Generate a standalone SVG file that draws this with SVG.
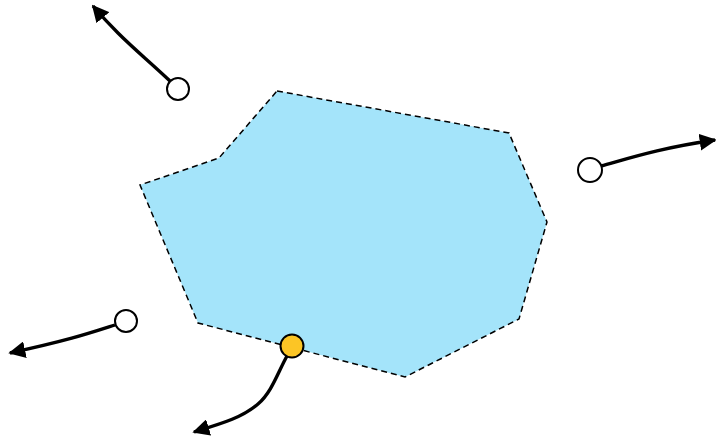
<svg xmlns="http://www.w3.org/2000/svg" width="716" height="438" viewBox="0 0 716 438">
<defs>
<style>
.region{fill:#a4e4fa;stroke:#000;stroke-width:1.5;stroke-dasharray:6 4}
.edge{fill:none;stroke:#000;stroke-width:3.4}
.node{fill:#fff;stroke:#000;stroke-width:2}
.node.hot{fill:#fcc525}
</style>
<marker id="ah" viewBox="0 0 10 10" refX="9" refY="5" markerWidth="5" markerHeight="5" orient="auto" markerUnits="strokeWidth">
<path d="M0,0 L10,5 L0,10 Z" fill="#000"/>
</marker>
</defs>
<g id="region">
<polygon class="region" points="277,91 509,133 547,222 519,319 405,377 198,323 140,185 219,158"/>
</g>
<g id="connectors">
<path class="edge" marker-end="url(#ah)" d="M170,81 C150,62 135,50 118,33 Q105,20 93,6"/>
<path class="edge" marker-end="url(#ah)" d="M601,166 C630,158 660,148 715,140"/>
<path class="edge" marker-end="url(#ah)" d="M115,325 C90,333 70,340 10,353"/>
<path class="edge" marker-end="url(#ah)" d="M287,356 C278,372 272,392 258,404 C242,418 220,424 194,432"/>
</g>
<g id="n1"><circle class="node" cx="178" cy="89" r="11"/></g>
<g id="n2"><circle class="node" cx="590" cy="170" r="12"/></g>
<g id="n3"><circle class="node" cx="126" cy="321" r="11"/></g>
<g id="n4"><circle class="node hot" cx="292" cy="346" r="11.5"/></g>
</svg>
